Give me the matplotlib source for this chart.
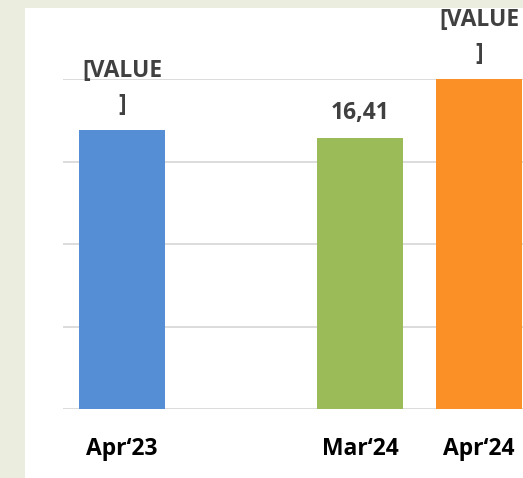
import matplotlib
matplotlib.use("Agg")
import matplotlib.pyplot as plt
import numpy as np
from matplotlib.patches import Rectangle

# data (orange bar runs past the top of the axis)
months = ["Apr\u201823", "", "Mar\u201824", "Apr\u201824"]
values = [16.9, np.nan, 16.41, 21.0]
labels = ["[VALUE\n]", "", "16,41", "[VALUE\n]"]
colors = ["#558ed5", "#ffffff", "#9bbb59", "#fa9026"]

ymax = 20
font = "Open Sans"

fig = plt.figure(figsize=(5.23, 4.78), dpi=100)
fig.patch.set_facecolor("#ebeedf")
fig.patches.append(Rectangle((25/523, 0), 1, 1 - 8/478, transform=fig.transFigure,
                             facecolor="white", edgecolor="none", zorder=-5))

ax = fig.add_axes([62.5/523, 69/478, 476/523, 330/478])
ax.set_facecolor("none")

x = np.arange(len(months))
ax.bar(x, np.nan_to_num(values), width=0.72, color=colors, zorder=2)

for xi, v, lab in zip(x, values, labels):
    if not lab:
        continue
    ax.annotate(lab, (xi, min(v, ymax)), xytext=(0, 9.5), textcoords="offset points",
                ha="center", va="bottom", fontsize=16.5, fontweight="bold",
                color="#404040", family=font, linespacing=1.55,
                annotation_clip=False)

ax.set_ylim(0, ymax)
ax.set_xlim(-0.5, len(months) - 0.5)
ax.set_yticks(np.arange(0, ymax + 1, 5))
ax.yaxis.grid(True, color="#d9d9d9", linewidth=1.3, zorder=0)
ax.set_axisbelow(True)
ax.set_yticklabels([])
ax.set_xticks(x)
ax.set_xticklabels(months, fontsize=16.5, fontweight="bold", family=font, color="black")
ax.tick_params(axis="both", length=0)
ax.tick_params(axis="x", pad=20)
for s in ax.spines.values():
    s.set_visible(False)

fig.savefig("out.png", dpi=100, facecolor=fig.get_facecolor())
